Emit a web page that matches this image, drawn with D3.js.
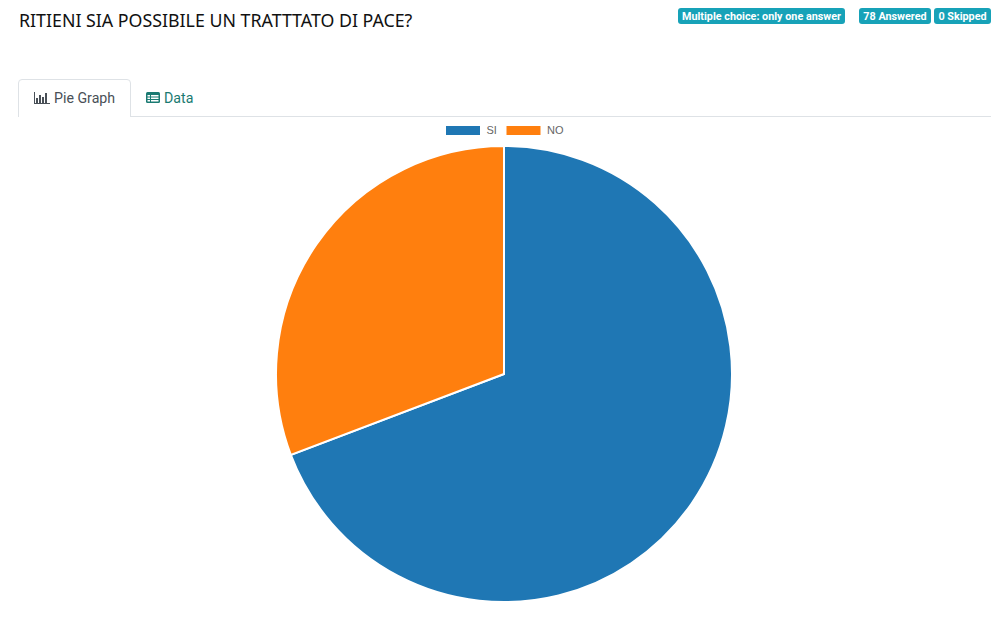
<!DOCTYPE html>
<html>
<head>
<meta charset="utf-8">
<script src="https://cdn.jsdelivr.net/npm/d3@7"></script>
<style>
  html, body { margin: 0; padding: 0; background: #fff; overflow: hidden; }
  svg { display: block; }
</style>
</head>
<body>
<div id="chart"></div>
<script>
    let categories = ["SI", "NO"];
    let answers = [54, 24];
    let colors = ["#1f77b4", "#ff7f0e"];
    let titleText = "RITIENI SIA POSSIBILE UN TRATTTATO DI PACE?";

    let svg = d3.select("#chart")
        .append("svg")
        .attr("width", 1005)
        .attr("height", 618);

    // Title
    svg.append("text")
        .attr("x", 19)
        .attr("y", 27)
        .attr("font-family", "'Noto Sans'")
        .attr("font-size", "17.8px")
        .attr("fill", "#111")
        .text(titleText);

    // Badges top right
    let badges = [
        {text: "Multiple choice: only one answer", x: 678, w: 167},
        {text: "78 Answered", x: 859, w: 72},
        {text: "0 Skipped", x: 934, w: 57}
    ];

    let badge = svg.selectAll(".badge")
        .data(badges)
        .enter()
        .append("g")
        .attr("class", "badge")
        .attr("transform", d => "translate(" + d.x + ",8)");

    badge.append("rect")
        .attr("width", d => d.w)
        .attr("height", 16)
        .attr("rx", 3)
        .attr("fill", "#17a2b8");

    badge.append("text")
        .attr("x", d => d.w / 2)
        .attr("y", 12)
        .attr("text-anchor", "middle")
        .attr("font-family", "Roboto")
        .attr("font-weight", "700")
        .attr("font-size", "10.8px")
        .attr("fill", "#fff")
        .text(d => d.text);

    // Tabs
    svg.append("line")
        .attr("x1", 18).attr("x2", 991)
        .attr("y1", 116.5).attr("y2", 116.5)
        .attr("stroke", "#dee2e6");

    svg.append("path")
        .attr("d", "M18.5,117V83a3.5,3.5 0 0 1 3.5,-3.5H127a3.5,3.5 0 0 1 3.5,3.5V117")
        .attr("fill", "#fff")
        .attr("stroke", "#dee2e6");

    // bar chart icon
    let icon = svg.append("g").attr("fill", "#495057");
    icon.append("rect").attr("x", 34).attr("y", 103).attr("width", 16).attr("height", 1);
    icon.append("rect").attr("x", 34).attr("y", 92).attr("width", 1).attr("height", 12);
    [[36, 98, 2, 5], [39, 95, 2, 8], [42, 97, 2, 6], [45, 93, 2, 10]].forEach(b => {
        icon.append("rect").attr("x", b[0]).attr("y", b[1]).attr("width", b[2]).attr("height", b[3]);
    });

    svg.append("text")
        .attr("x", 54).attr("y", 103)
        .attr("font-family", "Roboto")
        .attr("font-size", "14.2px")
        .attr("fill", "#495057")
        .text("Pie Graph");

    // table icon
    let tableIcon = svg.append("g");
    tableIcon.append("rect")
        .attr("x", 146).attr("y", 92).attr("width", 14).attr("height", 11).attr("rx", 1.5)
        .attr("fill", "#1a7a72");
    [[147.5, 95, 2.5], [147.5, 97.5, 2.5], [147.5, 100, 2.5], [151, 95, 7.5], [151, 97.5, 7.5], [151, 100, 7.5]].forEach(b => {
        tableIcon.append("rect").attr("x", b[0]).attr("y", b[1]).attr("width", b[2]).attr("height", 1.5).attr("fill", "#fff");
    });

    svg.append("text")
        .attr("x", 164).attr("y", 103)
        .attr("font-family", "Roboto")
        .attr("font-size", "14.2px")
        .attr("fill", "#1a7a72")
        .text("Data");

    // Legend
    let legendX = d3.scaleOrdinal().domain(categories).range([446, 506.5]);

    let legend = svg.selectAll(".legend")
        .data(categories)
        .enter()
        .append("g")
        .attr("class", "legend")
        .attr("transform", d => "translate(" + legendX(d) + ",126)");

    legend.append("rect")
        .attr("width", 34)
        .attr("height", 9)
        .attr("fill", (d, i) => colors[i]);

    legend.append("text")
        .attr("x", 40.5)
        .attr("y", 8)
        .attr("font-family", "'Liberation Sans'")
        .attr("font-size", "11px")
        .attr("fill", "#666")
        .text(d => d);

    // Pie
    let pie = d3.pie().sort(null);
    let arc = d3.arc().innerRadius(0).outerRadius(228);

    svg.append("g")
        .attr("transform", "translate(504,374)")
        .selectAll("path")
        .data(pie(answers))
        .enter()
        .append("path")
        .attr("d", arc)
        .attr("fill", (d, i) => colors[i])
        .attr("stroke", "#fff")
        .attr("stroke-width", 2);
</script>
</body>
</html>
